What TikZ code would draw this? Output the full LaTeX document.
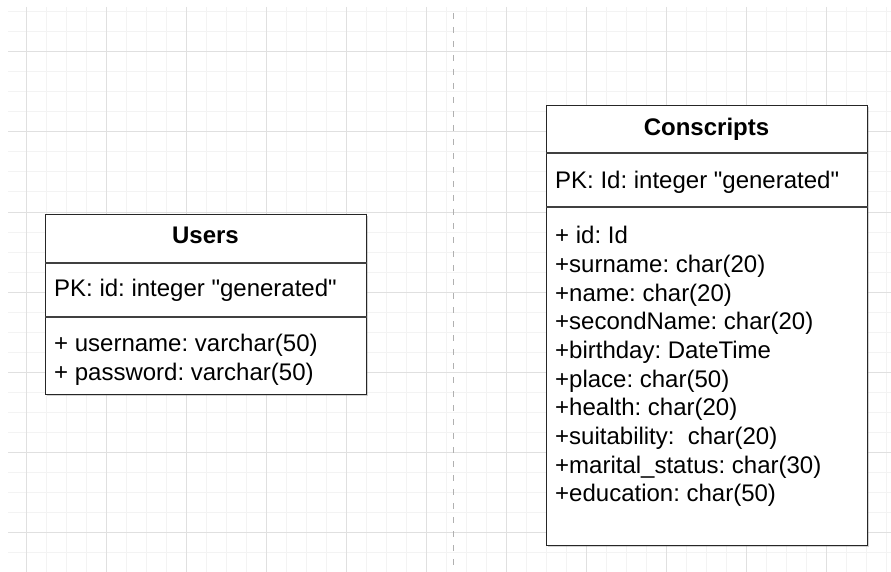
\documentclass[tikz,border=0pt]{standalone}
\usepackage{fontspec}
\setmainfont{Liberation Sans}
\usetikzlibrary{positioning,shadows}
\frenchspacing

\definecolor{gridminor}{HTML}{F3F3F3}
\definecolor{gridmajor}{HTML}{E0E0E0}
\definecolor{divider}{HTML}{B0B0B0}

\begin{document}
\begin{tikzpicture}[x=1pt, y=-1pt,
  font=\fontsize{24pt}{28.8pt}\selectfont,
  entity/.style={rectangle, draw=black!85, line width=1.3pt, fill=white,
                 inner sep=0pt, anchor=north west,
                 drop shadow={shadow xshift=1.5pt, shadow yshift=-1.5pt, opacity=.35}},
  sep/.style={draw=black!75, line width=1.5pt},
  title/.style={inner sep=0pt, text height=17.2pt, text depth=0pt, font=\fontsize{24pt}{28.8pt}\selectfont\bfseries},
  attr/.style={anchor=west, inner sep=0pt, text height=17.2pt, text depth=0pt},
]
\useasboundingbox (0,0) rectangle (891,572);

% background grid
\begin{scope}
  \clip (8,7) rectangle (891,572);
  \foreach \x in {26,46,...,886}
    \draw[gridminor, line width=1pt] (\x,7) -- (\x,572);
  \foreach \y in {12,32,...,572}
    \draw[gridminor, line width=1pt] (8,\y) -- (891,\y);
  \foreach \x in {26,106,...,826}
    \draw[gridmajor, line width=1pt] (\x,7) -- (\x,572);
  \foreach \y in {52,132,...,532}
    \draw[gridmajor, line width=1pt] (8,\y) -- (891,\y);
\end{scope}

% page divider
\coordinate (divtop) at (453,13);
\coordinate (divbot) at (453,572);
\draw[divider, line width=1pt, dash pattern=on 6pt off 8pt] (divtop) -- (divbot);

% Users
\node[entity, minimum width=321pt, minimum height=180pt] (users) at (45,214) {};
\draw[sep] ([yshift=-49pt]users.north west) -- ([yshift=-49pt]users.north east);
\draw[sep] ([yshift=-103pt]users.north west) -- ([yshift=-103pt]users.north east);
\node[title] (usersname) at (205.5,235) {Users};
\node[attr] (userspk) at (54,288) {PK: id: integer \textquotedbl generated\textquotedbl};
\node[attr] (usersu) at (54,343) {+ username: varchar(50)};
\node[attr] (usersp) at (54,372) {+ password: varchar(50)};

% Conscripts
\node[entity, minimum width=321pt, minimum height=440pt] (consc) at (546,105) {};
\draw[sep] ([yshift=-48pt]consc.north west) -- ([yshift=-48pt]consc.north east);
\draw[sep] ([yshift=-102pt]consc.north west) -- ([yshift=-102pt]consc.north east);
\node[title] (conscname) at (706.5,127) {Conscripts};
\node[attr] (conscpk) at (555,180) {PK: Id: integer \textquotedbl generated\textquotedbl};
\foreach \txt [count=\i from 0] in {+ id: Id, +surname: char(20), +name: char(20),
    +secondName: char(20), +birthday: DateTime, +place: char(50),
    +health: char(20), +suitability:\ \ char(20), +marital\_status: char(30),
    +education: char(50)}
  \node[attr] (conscf\i) at (555,{235+28.7*\i}) {\txt};

\end{tikzpicture}
\end{document}
